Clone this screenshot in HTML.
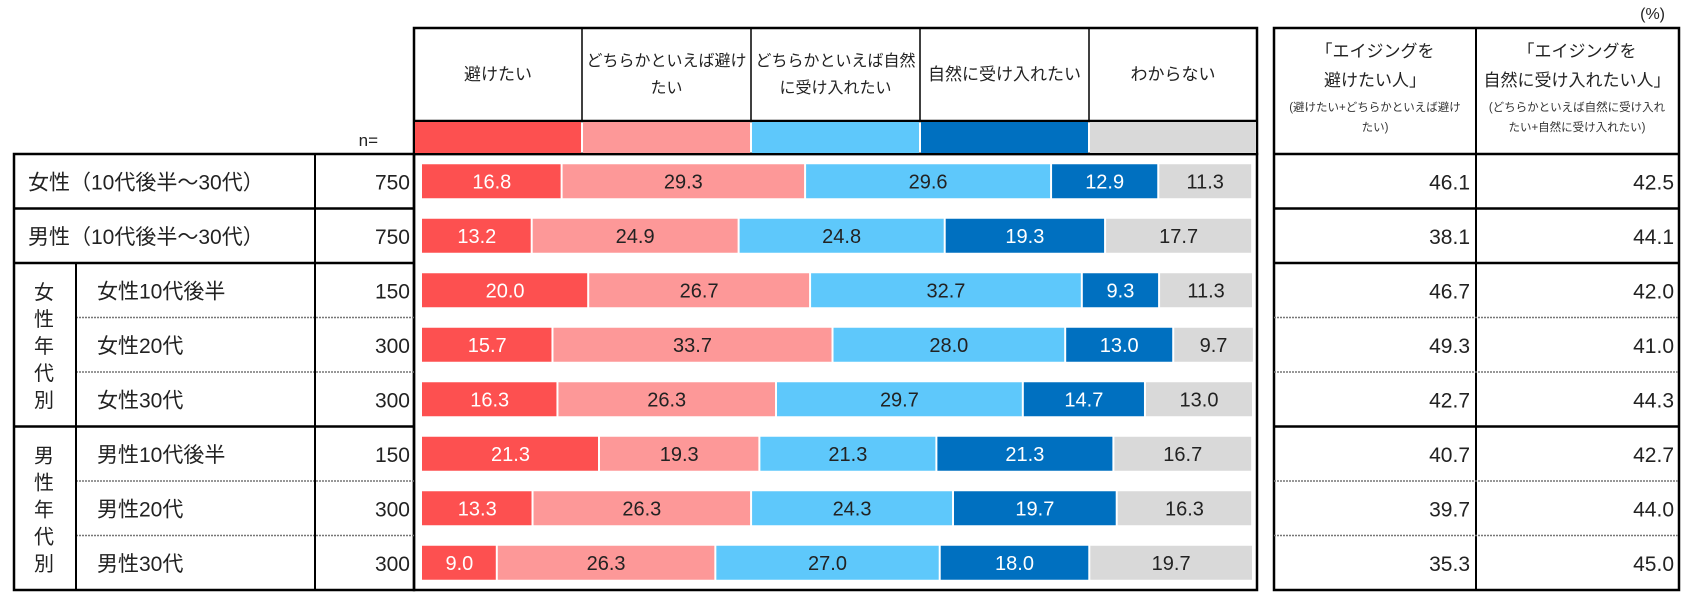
<!DOCTYPE html>
<html><head><meta charset="utf-8">
<style>
html,body{margin:0;padding:0;background:#fff;}
svg{display:block;font-family:"Liberation Sans","Noto Sans CJK JP",sans-serif;}
</style></head>
<body>
<svg id="chart" width="1701" height="611" viewBox="0 0 1701 611" xmlns="http://www.w3.org/2000/svg">
<g id="static">
  <text x="1665" y="19" font-size="16" text-anchor="end" fill="#222">(%)</text>
  <rect x="414" y="28" width="843" height="126" fill="none" stroke="#000" stroke-width="2.5"/>
  <line x1="414" y1="121" x2="1257" y2="121" stroke="#000" stroke-width="2.5"/>
  <rect x="14" y="154" width="400" height="436" fill="none" stroke="#000" stroke-width="2.5"/>
  <text x="378" y="146" font-size="17" text-anchor="end" fill="#222">n=</text>
  <rect x="414" y="154" width="843" height="436" fill="none" stroke="#000" stroke-width="2.5"/>
  <rect x="1274" y="28" width="405" height="562" fill="none" stroke="#000" stroke-width="2.5"/>
  <line x1="1476" y1="28" x2="1476" y2="590" stroke="#000" stroke-width="2"/>
  <line x1="1274" y1="154" x2="1679" y2="154" stroke="#000" stroke-width="2.5"/>
  <text x="1375" y="57" font-size="17" text-anchor="middle" fill="#222">「エイジングを</text>
  <text x="1375" y="86" font-size="17" text-anchor="middle" fill="#222">避けたい人」</text>
  <text x="1375" y="111" font-size="11.5" text-anchor="middle" fill="#333">(避けたい+どちらかといえば避け</text>
  <text x="1375" y="131" font-size="11.5" text-anchor="middle" fill="#333">たい)</text>
  <text x="1577" y="57" font-size="17" text-anchor="middle" fill="#222">「エイジングを</text>
  <text x="1577" y="86" font-size="17" text-anchor="middle" fill="#222">自然に受け入れたい人」</text>
  <text x="1577" y="111" font-size="11.5" text-anchor="middle" fill="#333">(どちらかといえば自然に受け入れ</text>
  <text x="1577" y="131" font-size="11.5" text-anchor="middle" fill="#333">たい+自然に受け入れたい)</text>
</g>
<g id="dyn"></g>
</svg>
<script>
const categories = ["避けたい","どちらかといえば避けたい","どちらかといえば自然に受け入れたい","自然に受け入れたい","わからない"];
const rowLabels = ["女性（10代後半～30代）","男性（10代後半～30代）","女性10代後半","女性20代","女性30代","男性10代後半","男性20代","男性30代"];
const nValues = [750,750,150,300,300,150,300,300];
const avoid = [16.8,13.2,20.0,15.7,16.3,21.3,13.3,9.0];
const ratherAvoid = [29.3,24.9,26.7,33.7,26.3,19.3,26.3,26.3];
const ratherAccept = [29.6,24.8,32.7,28.0,29.7,21.3,24.3,27.0];
const accept = [12.9,19.3,9.3,13.0,14.7,21.3,19.7,18.0];
const unknown = [11.3,17.7,11.3,9.7,13.0,16.7,16.3,19.7];
const avoidTotal = [46.1,38.1,46.7,49.3,42.7,40.7,39.7,35.3];
const acceptTotal = [42.5,44.1,42.0,41.0,44.3,42.7,44.0,45.0];

const series = [avoid, ratherAvoid, ratherAccept, accept, unknown];
const colors = ["#fd5050","#fd9898","#5ec8fb","#0070c0","#d9d9d9"];
const textColors = ["#fff","#222","#222","#fff","#222"];
const NS = "http://www.w3.org/2000/svg";
const g = document.getElementById("dyn");
const X0 = 422, PLOT_W = 831, Y0 = 154, ROW_H = 54.5, BAR_H = 34;
const xScale = v => v / 100 * PLOT_W;
const rowY = i => Y0 + i * ROW_H;
function mk(tag, attrs, txt){const e=document.createElementNS(NS,tag);for(const k in attrs)e.setAttribute(k,attrs[k]);if(txt!==undefined)e.textContent=txt;g.appendChild(e);return e;}

const hdrX = [414,582,751,920,1089,1257];
const hdrLines = [["避けたい"],["どちらかといえば避け","たい"],["どちらかといえば自然","に受け入れたい"],["自然に受け入れたい"],["わからない"]];
categories.forEach((c,j)=>{
  const x1=hdrX[j], x2=hdrX[j+1], cx=(x1+x2)/2;
  const sw = mk("rect",{x:x1+1,y:122,width:x2-x1-2,height:31,fill:colors[j]});
  
  
  if(j>0){mk("line",{x1:x1,y1:28,x2:x1,y2:121,stroke:"#000","stroke-width":1.5});}
  const lines=hdrLines[j];
  lines.forEach((t,k)=>{
    const y = lines.length===1 ? 80 : 66+k*27;
    const fs = lines.length===1 ? 17 : 16;
    const tx = mk("text",{x:cx,y:y,"font-size":fs,"text-anchor":"middle",fill:"#222"},t);
    
    
  });
});

for(let i=1;i<8;i++){
  const y=rowY(i);
  const solid = (i===1||i===2||i===5);
  const lx = (i===3||i===4||i===6||i===7)?76:14;
  mk("line",{x1:lx,y1:y,x2:414,y2:y,stroke:solid?"#000":"#777","stroke-width":solid?2.5:1.5,"stroke-dasharray":solid?"none":"2,1"});
  mk("line",{x1:1274,y1:y,x2:1679,y2:y,stroke:solid?"#000":"#777","stroke-width":solid?2.5:1.5,"stroke-dasharray":solid?"none":"2,1"});
}
mk("line",{x1:315,y1:154,x2:315,y2:590,stroke:"#000","stroke-width":2});
mk("line",{x1:76,y1:rowY(2),x2:76,y2:590,stroke:"#000","stroke-width":2});
const groupChars=[["女","性","年","代","別"],["男","性","年","代","別"]];
groupChars.forEach((chs,gi)=>{
  const top=rowY(2+gi*3), mid=top+ROW_H*1.5;
  chs.forEach((ch,k)=>{
    const t=mk("text",{x:44,y:mid+(k-2)*27+8,"font-size":20,"text-anchor":"middle",fill:"#222"},ch);
    
    
  });
});

rowLabels.forEach((lab,i)=>{
  const cy=rowY(i)+ROW_H/2;
  const lx = i<2?28:97;
  const t=mk("text",{x:lx,y:cy+8,"font-size":21,fill:"#222"},lab);
  
  
  const n=mk("text",{x:410,y:cy+8,"font-size":21,"text-anchor":"end",fill:"#222"},String(nValues[i]));
  
  
  let acc=0;
  series.forEach((s,j)=>{
    const v=s[i], x=X0+xScale(acc), w=xScale(v);
    const r=mk("rect",{x:x+(j>0?1:0),y:cy-BAR_H/2,width:Math.max(0,w-(j>0?1:0)-1),height:BAR_H,fill:colors[j]});
    
    
    const tv=mk("text",{x:x+w/2,y:cy+7,"font-size":20,"text-anchor":"middle",fill:textColors[j]},v.toFixed(1));
    
    
    acc+=v;
  });
  const a=mk("text",{x:1470,y:cy+8,"font-size":21,"text-anchor":"end",fill:"#222"},avoidTotal[i].toFixed(1));
  
  
  const b=mk("text",{x:1674,y:cy+8,"font-size":21,"text-anchor":"end",fill:"#222"},acceptTotal[i].toFixed(1));
  
  
});
</script>
</body></html>
